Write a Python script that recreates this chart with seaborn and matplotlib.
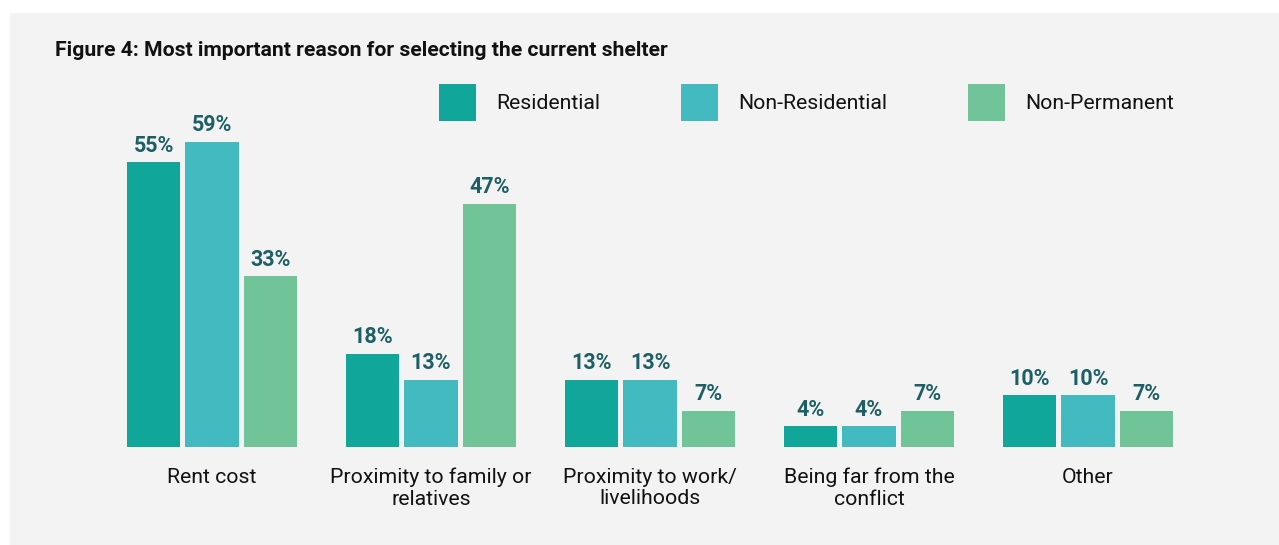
import matplotlib.pyplot as plt
import pandas as pd
import seaborn as sns
from matplotlib.patches import Rectangle

categories = ["Rent cost", "Proximity to family or\nrelatives", "Proximity to work/\nlivelihoods",
              "Being far from the\nconflict", "Other"]
residential = [55, 18, 13, 4, 10]
non_residential = [59, 13, 13, 4, 10]
non_permanent = [33, 47, 7, 7, 7]
groups = ["Residential", "Non-Residential", "Non-Permanent"]

COLORS = ["#10a69a", "#42bac0", "#70c497"]
LABEL_COLOR = "#1d5f66"
PANEL = "#f3f3f3"

df = pd.DataFrame({
    "reason": categories * 3,
    "group": [g for g in groups for _ in categories],
    "value": residential + non_residential + non_permanent,
})

sns.set_theme(style="white")
plt.rcParams["font.family"] = ["Roboto", "DejaVu Sans"]

fig = plt.figure(figsize=(12.79, 5.45), dpi=100)
fig.patch.set_facecolor("white")
# grey panel behind everything
fig.patches.append(Rectangle((10 / 1279, 0), 1, 1 - 13 / 545, transform=fig.transFigure,
                             facecolor=PANEL, edgecolor="none", zorder=-10))

ax = fig.add_axes([102.5 / 1279, (545 - 447) / 545, 1095 / 1279, 336 / 545])
ax.set_facecolor(PANEL)

sns.barplot(data=df, x="reason", y="value", hue="group", palette=COLORS,
            width=0.8, gap=0.09, ax=ax, legend=True, saturation=1, linewidth=0)

for cont in ax.containers:
    ax.bar_label(cont, labels=[f"{v:.0f}%" for v in cont.datavalues], padding=4,
                 fontsize=15.5, fontweight="bold", color=LABEL_COLOR)

ax.set_xlim(-0.5, 4.5)
ax.set_ylim(0, 64.9)
ax.set_xlabel("")
ax.set_ylabel("")
ax.set_yticks([])
ax.tick_params(axis="x", length=0, pad=15, labelsize=15.3, labelcolor="#111111")
for lbl in ax.get_xticklabels():
    lbl.set_linespacing(1.17)
for s in ax.spines.values():
    s.set_visible(False)

leg = ax.legend(loc="upper left", bbox_to_anchor=(439 / 1279, 1 - 84 / 545),
                bbox_transform=fig.transFigure, ncol=3, frameon=False, fontsize=15.3,
                handlelength=1.75, handleheight=2.3, handletextpad=0.94,
                columnspacing=3.8, borderaxespad=0, borderpad=0)
for t in leg.get_texts():
    t.set_color("#111111")

fig.text(55 / 1279, 1 - 50 / 545, "Figure 4: Most important reason for selecting the current shelter",
         fontsize=15.2, fontweight="bold", color="#111111", va="center")

fig.savefig("out.png", dpi=100, facecolor=fig.get_facecolor())
